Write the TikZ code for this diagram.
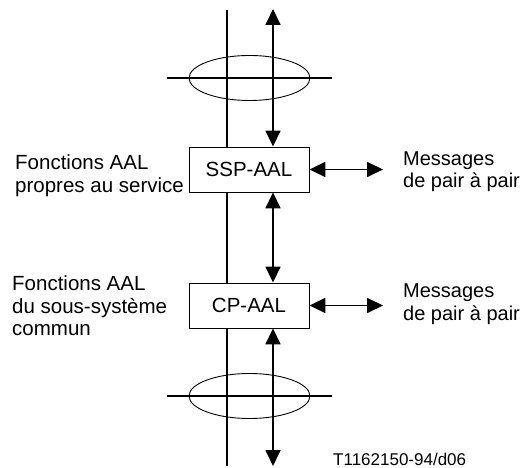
\documentclass[tikz,border=0pt]{standalone}
\usepackage{fontspec}
\setmainfont{Liberation Sans}
\usetikzlibrary{arrows.meta}
\tikzset{
  tip/.tip={Triangle[length=16pt,width=15pt]},
  rule/.style={line width=1.8pt},
  arr/.style={line width=1.8pt,tip-tip},
  ring/.style={line width=0.9pt},
  box/.style={draw,line width=0.9pt,fill=white,minimum width=120pt,minimum height=45pt,inner sep=0pt,font=\fontsize{20.5}{23}\selectfont},
  lbl/.style={align=left,inner sep=0pt,font=\fontsize{20.5}{23}\selectfont,anchor=base west},
  msg/.style={lbl,font=\fontsize{20}{22.5}\selectfont},
}
\begin{document}
\begin{tikzpicture}[x=1pt,y=-1pt]
\useasboundingbox (0,0) rectangle (523,468);
% main vertical line
\coordinate (vtop) at (227,10);
\coordinate (vbot) at (227,466);
\draw[rule] (vtop) -- (vbot);
% ellipses and horizontal lines
\coordinate (e1) at (249.5,78);
\coordinate (e2) at (249.5,396);
\coordinate (h1l) at (167,78); \coordinate (h1r) at (332,78);
\coordinate (h2l) at (167,396); \coordinate (h2r) at (332,396);
\draw[rule] (h1l) -- (h1r);
\draw[rule] (h2l) -- (h2r);
\draw[ring] (e1) ellipse [x radius=60.5, y radius=22.5];
\draw[ring] (e2) ellipse [x radius=60.5, y radius=22.5];
% boxes
\node[box] (ssp) at (249,169.5) {SSP-AAL};
\node[box] (cp) at (249,305.5) {CP-AAL};
% vertical arrows
\coordinate (atop) at (273,9);
\coordinate (abot) at (273,466);
\draw[arr] (atop) -- (atop |- ssp.north);
\draw[arr] (atop |- ssp.south) -- (atop |- cp.north);
\draw[arr] (atop |- cp.south) -- (abot);
% labels (base anchor = last line)
\node[lbl] (lssp) at (15,193) {Fonctions AAL\\propres au service};
\node[lbl] (lcp) at (12,336) {Fonctions AAL\\du sous-système\\commun};
\node[msg] (mssp) at (403,188) {Messages\\de pair à pair};
\node[msg] (mcp) at (403,320) {Messages\\de pair à pair};
% horizontal arrows
\coordinate (r1) at (383,169.5);
\coordinate (r2) at (383,305.5);
\draw[arr] (ssp.east) -- (r1);
\draw[arr] (cp.east) -- (r2);
\node[anchor=base west,inner sep=0pt,font=\fontsize{17}{20}\selectfont] (ref) at (333,465) {T1162150-94/d06};
\end{tikzpicture}
\end{document}
